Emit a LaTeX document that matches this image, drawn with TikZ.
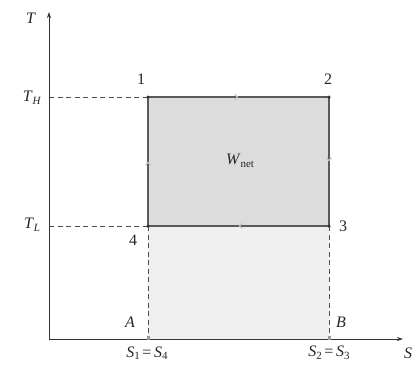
\documentclass[tikz,border=0pt]{standalone}
\usepackage{fontspec}
\setmainfont{Liberation Serif}
\usetikzlibrary{arrows.meta,decorations.markings,calc}
\definecolor{upfill}{HTML}{DCDCDC}
\definecolor{lowfill}{HTML}{EFEFEF}
\definecolor{edge}{HTML}{5A5A5A}
\newcommand{\lsub}[1]{\raisebox{-0.35ex}{\fontsize{11}{12}\selectfont #1}}
\newcommand{\eqsign}{\,=\,}
\tikzset{
  axis/.style={draw=black!80, line width=0.9pt},
  guide/.style={draw=black!70, dashed, dash pattern=on 5pt off 3.5pt, line width=0.6pt},
  cycle/.style={draw=edge, line width=1.1pt},
  dot/.style={circle, fill=black!80, inner sep=0pt, minimum size=3.5pt},
  lbl/.style={inner sep=1pt, text=black!85, font=\fontsize{16}{18}\selectfont},
  midarrow/.style={postaction={decorate, decoration={markings, mark=at position 0.5 with {\arrow[black!25]{Straight Barb[length=3pt,width=5pt]}}}}}
}
\begin{document}
\begin{tikzpicture}[x=1pt,y=-1pt]
\useasboundingbox (0,0) rectangle (414,368);
% coordinates
\coordinate (O) at (49,339);
\coordinate (Ttop) at (49,12);
\coordinate (Send) at (403,339);
\coordinate (p1) at (148,97);
\coordinate (p2) at (329,97);
\coordinate (p3) at (329,226);
\coordinate (p4) at (148,226);
\coordinate (pA) at (148,339);
\coordinate (pB) at (329,339);
\coordinate (TH) at (49,97);
\coordinate (TL) at (49,226);
% fills
\fill[lowfill] (p4) rectangle (pB);
\fill[upfill] (p1) rectangle (p3);
% guides
\draw[guide] (TH) -- (p1);
\draw[guide] (TL) -- (p4);
\draw[guide] (p4) -- (pA);
\draw[guide] (p3) -- (pB);
% axes
\draw[axis, -{Stealth[length=6pt,width=4pt]}] (O) -- (Ttop);
\draw[axis, -{Stealth[length=6pt,width=4pt]}] (O) -- (Send);
% cycle
\draw[cycle, midarrow] (p1) -- (p2);
\draw[cycle, midarrow] (p2) -- (p3);
\draw[cycle, midarrow] (p3) -- (p4);
\draw[cycle, midarrow] (p4) -- (p1);
% dots
\node[dot] (n1) at (p1) {};
\node[dot] (n2) at (p2) {};
\node[dot] (n3) at (p3) {};
\node[dot] (n4) at (p4) {};
\fill[black!40] ($(pA)+(-1.5,-3)$) rectangle ($(pA)+(1.5,1)$);
\fill[black!40] ($(pB)+(-1.5,-3)$) rectangle ($(pB)+(1.5,1)$);
% labels
\node[lbl] (lT) at (31,18) {\textit{T}};
\node[lbl] (lTH) at (32,98) {\textit{T}\lsub{\textit{H}}};
\node[lbl] (lTL) at (32,225) {\textit{T}\lsub{\textit{L}}};
\node[lbl] (l1) at (141,79) {1};
\node[lbl] (l2) at (328,79) {2};
\node[lbl] (l3) at (343,226) {3};
\node[lbl] (l4) at (133,240) {4};
\node[lbl] (lW) at (240,161) {\textit{W}\lsub{net}};
\node[lbl] (lA) at (130,322) {\textit{A}};
\node[lbl] (lB) at (341,322) {\textit{B}};
\node[lbl] (lS14) at (147,353) {\textit{S}\lsub{1}\eqsign\textit{S}\lsub{4}};
\node[lbl] (lS23) at (329,353) {\textit{S}\lsub{2}\eqsign\textit{S}\lsub{3}};
\node[lbl] (lS) at (408,353) {\textit{S}};
\end{tikzpicture}
\end{document}
